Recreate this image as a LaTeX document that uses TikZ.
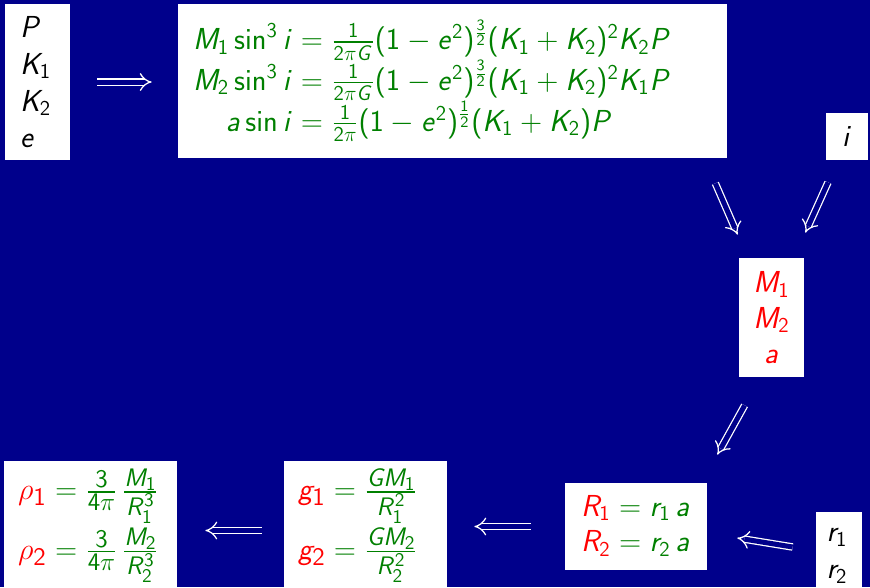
\documentclass[tikz,border=0pt]{standalone}
\usepackage{amsmath}
\usetikzlibrary{arrows.meta, positioning, calc}
\definecolor{slidebg}{RGB}{0,0,139}
\definecolor{eqgreen}{RGB}{0,128,0}
\definecolor{unkred}{RGB}{255,0,0}
\newcommand{\unk}[1]{{\color{unkred}#1}}
\newcommand{\lowstrut}{\rule[-0.66cm]{0pt}{0.1cm}}
\DeclareSymbolFont{operators}{OT1}{cmss}{m}{n}
\DeclareSymbolFont{sfitalic}{OT1}{cmss}{m}{sl}
\DeclareMathSizes{17.9}{17.9}{14.8}{11}
\newcount\ltrcode
\ltrcode=65
\loop
  \mathcode\ltrcode=\numexpr "7000+\symsfitalic*256+\ltrcode\relax
  \mathcode\numexpr\ltrcode+32\relax=\numexpr "7000+\symsfitalic*256+\ltrcode+32\relax
  \advance\ltrcode by 1
\ifnum\ltrcode<91 \repeat

\begin{document}
\begin{tikzpicture}[
    y=-1cm,
    every node/.style={fill=white, inner sep=0pt, font=\fontsize{17.8}{21}\selectfont},
    imp/.style={draw=white, double=slidebg, double distance=0.1cm, line width=0.025cm, -{Implies}},
    given/.style={text=black, align=left},
    eqbox/.style={text=eqgreen, align=left},
    bigfrac/.style={eqbox, font=\fontsize{17.9}{21}\selectfont}
]
\useasboundingbox (0,0) rectangle (17.4,11.74);
\clip (0,0) rectangle (17.4,11.74);
\fill[slidebg] (0,0) rectangle (17.4,11.74);

\node[given, minimum width=1.3cm, minimum height=3.12cm, text width=0.7cm] (par) at (0.75,1.64)
  {$P$\\$K_1$\\$K_2$\\$e$};
\node[eqbox, minimum width=10.98cm, minimum height=3.08cm, text width=10.38cm] (eqs) at (9.05,1.62)
  {$\begin{array}{@{}r@{}l@{}}
    M_1\sin^3 i &{}= \tfrac{1}{2\pi G}(1-e^2)^{\frac{3}{2}}(K_1+K_2)^2K_2P\\
    M_2\sin^3 i &{}= \tfrac{1}{2\pi G}(1-e^2)^{\frac{3}{2}}(K_1+K_2)^2K_1P\\
    a\sin i &{}= \tfrac{1}{2\pi}(1-e^2)^{\frac{1}{2}}(K_1+K_2)P
  \end{array}$};
\node[given, minimum width=0.84cm, minimum height=0.94cm] (inc) at (16.94,2.73) {$i$};
\node[text=unkred, align=center, minimum width=1.3cm, minimum height=2.38cm, font=\fontsize{17.8}{20}\selectfont] (mass) at (15.43,6.35)
  {$M_1$\\$M_2$\\$a$};
\node[eqbox, minimum width=2.84cm, minimum height=1.74cm, text width=2.2cm] (rad) at (12.72,10.53)
  {$\begin{array}{@{}r@{}l@{}}
    \unk{R_1} &{}= r_1\,a\\[-1pt]
    \unk{R_2} &{}= r_2\,a
  \end{array}$};
\node[given, minimum width=0.92cm, minimum height=1.76cm, text width=0.5cm] (rel) at (16.78,11.12)
  {$r_1$\\$r_2$};
\node[bigfrac, minimum width=3.26cm, minimum height=2.78cm, text width=2.7cm] (grav) at (7.31,10.61)
  {$\begin{array}{@{}l@{}}
    \unk{g_1} = \frac{GM_1}{R_1^2}\\[10pt]
    \unk{g_2} = \frac{GM_2}{R_2^2}\lowstrut
  \end{array}$};
\node[bigfrac, minimum width=3.46cm, minimum height=2.78cm, text width=2.9cm] (dens) at (1.81,10.61)
  {$\begin{array}{@{}l@{}}
    \unk{\rho_1} = \frac{3}{4\pi}\,\frac{M_1}{R_1^3}\\[10pt]
    \unk{\rho_2} = \frac{3}{4\pi}\,\frac{M_2}{R_2^3}\lowstrut
  \end{array}$};

\draw[imp, shorten <=0.54cm, shorten >=0.52cm] (par.east) -- (par.east -| eqs.west);
\draw[imp] ($(eqs.south east)+(-0.24,0.5)$) -- ($(mass.north west)+(-0.02,-0.46)$);
\draw[imp] ($(inc.south)+(-0.38,0.44)$) -- ($(mass.north east)+(0.02,-0.5)$);
\draw[imp] ($(mass.south west)+(0.12,0.56)$) -- ($(rad.north east)+(0.2,-0.56)$);
\draw[imp] ($(rel.west)+(-0.46,-0.18)$) -- ($(rad.east)+(0.6,0.23)$);
\draw[imp, shorten <=0.68cm, shorten >=0.54cm] (rad.west) -- (rad.west -| grav.east);
\draw[imp, shorten <=0.44cm, shorten >=0.56cm] (grav.west) -- (grav.west -| dens.east);
\end{tikzpicture}
\end{document}
